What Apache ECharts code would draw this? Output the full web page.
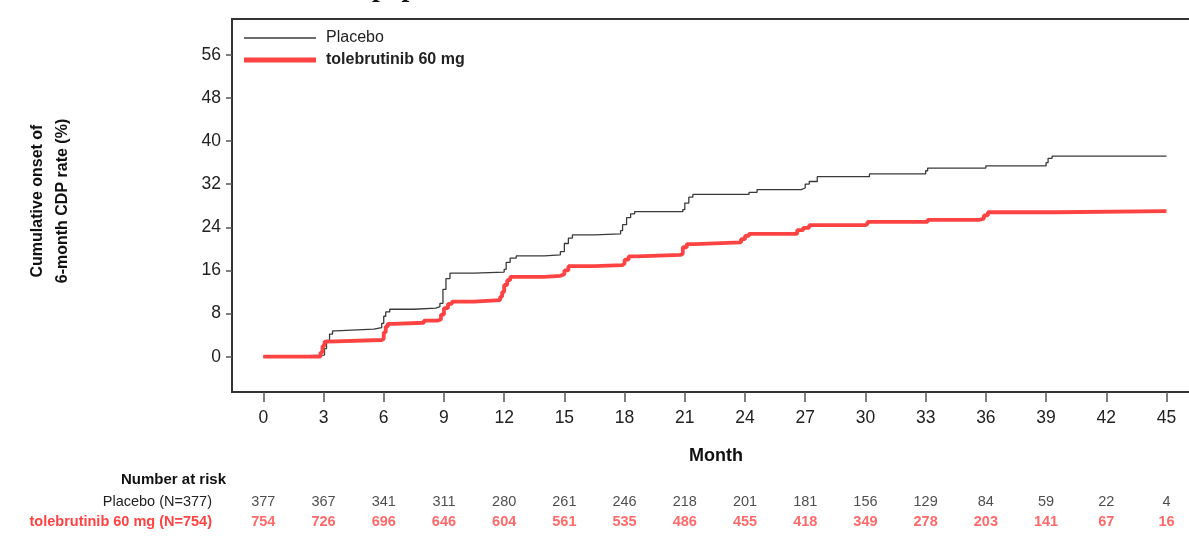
<!DOCTYPE html>
<html>
<head>
<meta charset="utf-8">
<script src="https://cdn.jsdelivr.net/npm/echarts@6/dist/echarts.min.js"></script>
<style>
html,body{margin:0;padding:0;background:#fff;}
#chart{width:1189px;height:539px;}
</style>
</head>
<body>
<div id="chart"></div>
<script>
// ---- data (months, cumulative % ) ----
const placeboCurve = [
  [0,0],[0.6,0.3],[3.05,1.5],[3.15,3.0],[3.3,4.2],[3.45,4.8],[3.6,5.1],[5.5,5.4],
  [5.9,6.2],[6.0,7.5],[6.1,8.3],[6.3,8.8],[7.5,9.0],[8.6,9.3],[8.8,9.9],[8.95,12.5],
  [9.1,14.5],[9.3,15.5],[10.5,15.7],[12.0,16.2],[12.1,17.5],[12.3,18.3],[12.6,18.7],
  [14.0,18.9],[14.8,19.5],[15.0,21.0],[15.2,22.0],[15.4,22.6],[16.5,22.8],[17.8,23.4],
  [17.9,24.5],[18.1,25.8],[18.3,26.5],[18.5,26.9],[20.9,27.3],[21.0,28.5],[21.2,29.6],
  [21.4,30.1],[24.2,30.5],[24.6,31.0],[26.8,31.3],[27.0,32.0],[27.2,32.5],[27.6,33.4],
  [30.2,33.9],[33.0,34.5],[33.1,35.0],[36.0,35.4],[39.0,36.0],[39.1,36.8],[39.3,37.2],[45,37.2]
];
const toleCurve = [
  [0,0],[2.85,0.8],[2.95,2.0],[3.05,2.8],[3.2,3.1],[5.9,3.3],[6.0,4.5],[6.1,5.6],[6.2,6.1],
  [6.5,6.3],[8.0,6.7],[8.7,6.9],[8.85,7.8],[9.0,9.0],[9.2,9.8],[9.4,10.2],[10.5,10.5],
  [11.8,11.1],[11.9,12.0],[12.0,13.3],[12.15,14.2],[12.3,14.8],[14.0,15.0],[14.8,15.3],
  [15.0,16.0],[15.2,16.8],[16.5,17.0],[17.9,17.3],[18.0,18.0],[18.2,18.6],[18.6,18.9],
  [20.8,19.1],[20.9,20.3],[21.1,20.9],[21.5,21.2],[23.8,21.8],[24.0,22.4],[24.2,22.8],
  [26.6,23.5],[26.9,23.9],[27.2,24.4],[30.0,24.6],[30.1,25.0],[33.1,25.4],[35.7,25.6],
  [35.9,26.2],[36.1,26.8],[39.5,27.0],[45,27.0]
];
const monthTicks = [0,3,6,9,12,15,18,21,24,27,30,33,36,39,42,45];
const yTicks = [0,8,16,24,32,40,48,56];
const riskRows = ['Placebo (N=377)', 'tolebrutinib 60 mg (N=754)'];
const placeboRisk = [377,367,341,311,280,261,246,218,201,181,156,129,84,59,22,4];
const toleRisk = [754,726,696,646,604,561,535,486,455,418,349,278,203,141,67,16];

const RED = '#ff4343';
const DARK = '#3a3a3a';
const FONT = "'Liberation Sans', Arial, sans-serif";

const placeboRiskData = monthTicks.map((m, i) => [m, riskRows[0], placeboRisk[i]]);
const toleRiskData = monthTicks.map((m, i) => [m, riskRows[1], toleRisk[i]]);

const chart = echarts.init(document.getElementById('chart'), null, {renderer: 'canvas'});
chart.setOption({
  animation: false,
  backgroundColor: '#fff',
  textStyle: {fontFamily: FONT},
  grid: [
    {left: 232, right: -6, top: 19, bottom: 147, outerBoundsMode: 'none', containLabel: false,
     show: true, borderColor: '#333', borderWidth: 2, backgroundColor: 'transparent'},
    {left: 232, right: -6, top: 492, height: 40, outerBoundsMode: 'none', containLabel: false}
  ],
  legend: [
    {
      data: [{name: 'Placebo', icon: 'rect'}],
      left: 244, top: 30, padding: 0,
      itemWidth: 72, itemHeight: 1.3,
      textStyle: {fontSize: 16, color: '#222', fontFamily: FONT, padding: [0, 0, 0, 5]},
      selectedMode: false
    },
    {
      data: [{name: 'tolebrutinib 60 mg', icon: 'rect'}],
      left: 244, top: 52, padding: 0,
      itemWidth: 72, itemHeight: 5,
      textStyle: {fontSize: 16, fontWeight: 'bold', color: '#222', fontFamily: FONT, padding: [0, 0, 0, 5]},
      selectedMode: false
    }
  ],
  xAxis: [
    {
      type: 'value', gridIndex: 0, min: -1.56, max: 46.42,
      axisLine: {show: false, onZero: false},
      splitLine: {show: false},
      axisTick: {show: true, length: 10, customValues: monthTicks, lineStyle: {color: '#555', width: 1.5}},
      axisLabel: {customValues: monthTicks, fontSize: 17.5, color: '#222', margin: 17, fontFamily: FONT}
    },
    {
      type: 'value', gridIndex: 1, min: -1.56, max: 46.42, show: false
    }
  ],
  yAxis: [
    {
      type: 'value', gridIndex: 0, min: -6.55, max: 62.65,
      axisLine: {show: false, onZero: false},
      splitLine: {show: false},
      axisTick: {show: true, length: 6, customValues: yTicks, lineStyle: {color: '#555', width: 1.5}},
      axisLabel: {customValues: yTicks, fontSize: 17.5, color: '#222', margin: 11, fontFamily: FONT}
    },
    {
      type: 'category', gridIndex: 1, data: riskRows, inverse: true,
      axisLine: {show: false}, axisTick: {show: false}, splitLine: {show: false},
      axisLabel: {
        margin: 20,
        formatter: v => v === riskRows[0] ? '{a|' + v + '}' : '{b|' + v + '}',
        rich: {
          a: {fontSize: 14.5, color: '#222', fontFamily: FONT},
          b: {fontSize: 14.5, color: RED, fontWeight: 'bold', fontFamily: FONT}
        }
      }
    }
  ],
  series: [
    {
      name: 'Placebo', type: 'line', step: 'end', xAxisIndex: 0, yAxisIndex: 0,
      data: placeboCurve, showSymbol: false, symbol: 'none',
      lineStyle: {color: DARK, width: 1.3}, itemStyle: {color: DARK}, z: 2
    },
    {
      name: 'tolebrutinib 60 mg', type: 'line', step: 'end', xAxisIndex: 0, yAxisIndex: 0,
      data: toleCurve, showSymbol: false, symbol: 'none',
      lineStyle: {color: RED, width: 3.8}, itemStyle: {color: RED}, z: 3
    },
    {
      name: 'risk-placebo', type: 'scatter', xAxisIndex: 1, yAxisIndex: 1,
      data: placeboRiskData, symbolSize: 1, itemStyle: {color: 'transparent'},
      label: {show: true, position: 'inside', formatter: p => p.value[2], fontSize: 14.5, color: '#222', fontFamily: FONT},
      silent: true
    },
    {
      name: 'risk-tole', type: 'scatter', xAxisIndex: 1, yAxisIndex: 1,
      data: toleRiskData, symbolSize: 1, itemStyle: {color: 'transparent'},
      label: {show: true, position: 'inside', formatter: p => p.value[2], fontSize: 14.5, color: RED, fontWeight: 'bold', fontFamily: FONT},
      silent: true
    }
  ],
  graphic: [
    {
      type: 'text', x: 50, y: 201, rotation: Math.PI / 2,
      style: {
        text: 'Cumulative onset of\n6-month CDP rate (%)',
        fontSize: 16, fontWeight: 'bold', fill: '#111', fontFamily: FONT,
        align: 'center', verticalAlign: 'middle', lineHeight: 25
      }
    },
    {
      type: 'text', x: 716, y: 456,
      style: {text: 'Month', fontSize: 18, fontWeight: 'bold', fill: '#111', fontFamily: FONT, align: 'center', verticalAlign: 'middle'}
    },
    {
      type: 'text', x: 226, y: 480,
      style: {text: 'Number at risk', fontSize: 15, fontWeight: 'bold', fill: '#111', fontFamily: FONT, align: 'right', verticalAlign: 'middle'}
    },
    {
      type: 'text', x: 372, y: -11,
      style: {text: 'population', fontSize: 28, fontWeight: 'bold', fill: '#111', fontFamily: "'Liberation Serif', 'DejaVu Serif', serif", align: 'left', verticalAlign: 'middle'}
    }
  ]
});
</script>
</body>
</html>
